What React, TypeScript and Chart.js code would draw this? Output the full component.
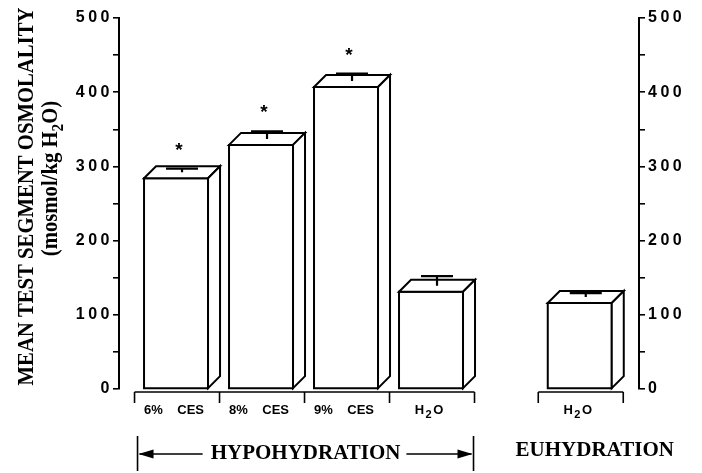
import { useEffect, useRef } from 'react';
import { Chart, registerables } from 'chart.js';

Chart.register(...registerables);

// ---- data ----
const categories = ['6%    CES', '8%    CES', '9%    CES', 'H₂O', 'H₂O'];
const conditionOf = ['HYPOHYDRATION', 'HYPOHYDRATION', 'HYPOHYDRATION', 'HYPOHYDRATION', 'EUHYDRATION'];
const conditions = ['HYPOHYDRATION', 'EUHYDRATION'];
const meanOsmolality = [284, 329, 407, 131, 116];
const semOsmolality = [5, 10, 10, 13, 5];
const significant = [true, true, true, false, false];
const yMin = 0;
const yMax = 500;
const yMinorStep = 50;
const yLabelStep = 100;
const yTitleLines = ['MEAN TEST SEGMENT OSMOLALITY', '(mosmol/kg H₂O)'];

// ---- layout constants ----
const GROUP_GAP = 0.75;
const DEPTH = 12;

const xIndex = (i: number) => i + conditions.indexOf(conditionOf[i]) * GROUP_GAP;

const SUB: Record<string, string> = { '₀': '0', '₁': '1', '₂': '2', '₃': '3', '₄': '4' };

function drawRich(
  ctx: CanvasRenderingContext2D,
  text: string,
  x: number,
  y: number,
  size: number,
  fontFor: (s: number) => string,
  align: 'left' | 'center' | 'right',
  subScale = 0.72,
  subPad = 0
) {
  const runs: { t: string; sub: boolean; w: number }[] = [];
  for (const ch of Array.from(text)) {
    const sub = ch in SUB;
    const c = sub ? SUB[ch] : ch;
    const last = runs[runs.length - 1];
    if (last && last.sub === sub) last.t += c;
    else runs.push({ t: c, sub, w: 0 });
  }
  const subSize = Math.round(size * subScale);
  let total = 0;
  for (const r of runs) {
    ctx.font = fontFor(r.sub ? subSize : size);
    r.w = ctx.measureText(r.t).width + (r.sub ? subPad * 2 : 0);
    total += r.w;
  }
  let cx = align === 'center' ? x - total / 2 : align === 'right' ? x - total : x;
  ctx.textAlign = 'left';
  for (const r of runs) {
    ctx.font = fontFor(r.sub ? subSize : size);
    ctx.fillText(r.t, cx + (r.sub ? subPad : 0), r.sub ? y + size * 0.28 : y);
    cx += r.w;
  }
  return total;
}

const sansBold = (s: number) => `bold ${s}px "Liberation Sans", Arial, sans-serif`;
const serifBold = (s: number) => `bold ${s}px "Liberation Serif", "Times New Roman", serif`;

const tickSpacingPlugin = {
  id: 'tickSpacing',
  beforeDraw(chart: any) {
    chart.ctx.letterSpacing = '3.5px';
  },
  afterDraw(chart: any) {
    chart.ctx.letterSpacing = '0px';
  },
};

const boxesPlugin = {
  id: 'boxes3d',
  afterDatasetsDraw(chart: any) {
    const ctx: CanvasRenderingContext2D = chart.ctx;
    const meta = chart.getDatasetMeta(0);
    const ys = chart.scales.y;
    const xs = chart.scales.x;
    const D = DEPTH;
    ctx.save();
    (ctx as any).letterSpacing = '0px';
    ctx.strokeStyle = '#000';
    ctx.fillStyle = '#fff';
    ctx.lineJoin = 'miter';

    meta.data.forEach((el: any, i: number) => {
      const { x, y, base, width } = el.getProps(['x', 'y', 'base', 'width'], true);
      const x0 = x - width / 2;
      const x1 = x + width / 2;
      ctx.lineWidth = 2;
      ctx.fillStyle = '#fff';
      ctx.beginPath();
      ctx.rect(x0, y, width, base - y);
      ctx.fill();
      ctx.stroke();
      ctx.beginPath();
      ctx.moveTo(x0, y);
      ctx.lineTo(x0 + D, y - D);
      ctx.lineTo(x1 + D, y - D);
      ctx.lineTo(x1, y);
      ctx.closePath();
      ctx.fill();
      ctx.stroke();
      ctx.beginPath();
      ctx.moveTo(x1, y);
      ctx.lineTo(x1 + D, y - D);
      ctx.lineTo(x1 + D, base - D);
      ctx.lineTo(x1, base);
      ctx.closePath();
      ctx.fill();
      ctx.stroke();

      // error bar on top face centre
      const ex = x + D / 2;
      const eBase = y - D / 2;
      const eTop = ys.getPixelForValue(meanOsmolality[i] + semOsmolality[i]) - D / 2;
      ctx.lineWidth = 2.2;
      ctx.beginPath();
      ctx.moveTo(ex, eBase);
      ctx.lineTo(ex, eTop);
      ctx.moveTo(ex - 16, eTop);
      ctx.lineTo(ex + 16, eTop);
      ctx.stroke();

      if (significant[i]) {
        ctx.fillStyle = '#000';
        ctx.font = sansBold(19);
        ctx.textAlign = 'center';
        ctx.textBaseline = 'alphabetic';
        ctx.fillText('*', ex - 3, eTop - 24 + 11);
      }
    });

    // brackets, category labels and condition labels
    const unit = xs.getPixelForValue(1) - xs.getPixelForValue(0);
    const yb = ys.getPixelForValue(0) + 3;
    ctx.fillStyle = '#000';
    ctx.textBaseline = 'alphabetic';
    conditions.forEach((cond) => {
      const idx = conditionOf.map((c, i) => (c === cond ? i : -1)).filter((i) => i >= 0);
      const left = xs.getPixelForValue(xIndex(idx[0])) - unit / 2 + 1;
      const right = xs.getPixelForValue(xIndex(idx[idx.length - 1])) + unit / 2 + 1;
      ctx.lineWidth = 1.6;
      ctx.beginPath();
      ctx.moveTo(left, yb);
      ctx.lineTo(right, yb);
      for (let k = 0; k <= idx.length; k++) {
        const bx = left + k * unit;
        ctx.moveTo(bx, yb);
        ctx.lineTo(bx, yb + 11);
      }
      ctx.stroke();

      idx.forEach((i) => {
        const cx = xs.getPixelForValue(xIndex(i)) - 2;
        drawRich(ctx, categories[i], cx, yb + 22, 13, sansBold, 'center', 0.85, 1.5);
      });

      const gy = yb + 62;
      ctx.font = serifBold(21);
      ctx.textBaseline = 'middle';
      ctx.textAlign = 'center';
      if (idx.length > 1) {
        const center = (left + right) / 2 + 1;
        const w = ctx.measureText(cond).width;
        ctx.fillText(cond, center, gy);
        const bl = left + 3;
        const br = right - 1;
        ctx.lineWidth = 1.6;
        ctx.beginPath();
        ctx.moveTo(bl, gy - 18);
        ctx.lineTo(bl, gy + 17);
        ctx.moveTo(br, gy - 18);
        ctx.lineTo(br, gy + 17);
        ctx.moveTo(bl + 2, gy);
        ctx.lineTo(center - w / 2 - 8, gy);
        ctx.moveTo(center + w / 2 + 6, gy);
        ctx.lineTo(br - 2, gy);
        ctx.stroke();
        ctx.beginPath();
        ctx.moveTo(bl + 1, gy);
        ctx.lineTo(bl + 16, gy - 4.5);
        ctx.lineTo(bl + 16, gy + 4.5);
        ctx.closePath();
        ctx.moveTo(br - 1, gy);
        ctx.lineTo(br - 16, gy - 4.5);
        ctx.lineTo(br - 16, gy + 4.5);
        ctx.closePath();
        ctx.fill();
      } else {
        ctx.fillText(cond, (left + right) / 2 + 14, gy - 3);
      }
      ctx.textBaseline = 'alphabetic';
    });

    // y-axis title (two rotated lines)
    const area = chart.chartArea;
    const mid = (area.top + area.bottom) / 2;
    const lines = [
      { text: yTitleLines[0], x: 33, y: mid - 7 },
      { text: yTitleLines[1], x: 57, y: mid - 25 },
    ];
    lines.forEach((l) => {
      ctx.save();
      ctx.translate(l.x, l.y);
      ctx.rotate(-Math.PI / 2);
      ctx.scale(0.9, 1);
      ctx.fillStyle = '#000';
      drawRich(ctx, l.text, 0, 0, 23, serifBold, 'center');
      ctx.restore();
    });

    ctx.restore();
  },
};

const yAxis = (position: 'left' | 'right', width: number, pad: number) => ({
  type: 'linear' as const,
  position,
  min: yMin,
  max: yMax,
  afterFit: (s: any) => {
    s.width = width;
  },
  grid: {
    display: true,
    drawOnChartArea: false,
    drawTicks: true,
    tickLength: 6,
    color: '#000',
    lineWidth: 1.6,
  },
  border: { display: true, color: '#000', width: 2 },
  ticks: {
    stepSize: yMinorStep,
    autoSkip: false,
    padding: pad,
    color: '#000',
    font: { family: '"Liberation Sans", Arial, sans-serif', weight: 'bold' as const, size: 16 },
    callback: (v: any) => (Number(v) % yLabelStep === 0 ? String(v) : ''),
  },
});

export default function App() {
  const ref = useRef<HTMLCanvasElement>(null);
  useEffect(() => {
    if (!ref.current) return;
    const chart = new Chart(ref.current, {
      type: 'bar',
      data: {
        datasets: [
          {
            data: meanOsmolality.map((v, i) => ({ x: xIndex(i), y: v })),
            backgroundColor: 'rgba(0,0,0,0)',
            borderWidth: 0,
            barThickness: 64,
            yAxisID: 'y',
          },
        ],
      },
      options: {
        animation: false,
        responsive: false,
        layout: { padding: { top: 18, bottom: 84, left: 0, right: 0 } },
        plugins: { legend: { display: false }, tooltip: { enabled: false } },
        scales: {
          x: {
            type: 'linear',
            display: false,
            offset: false,
            grid: { offset: false },
            bounds: 'ticks',
            min: -0.671,
            max: 5.447,
          },
          y: yAxis('left', 119, 0),
          y2: yAxis('right', 63, 3),
        },
      } as any,
      plugins: [tickSpacingPlugin, boxesPlugin],
    });
    return () => chart.destroy();
  }, []);
  return (
    <div style={{ position: 'fixed', left: 0, top: 0, width: 702, height: 473, background: '#fff' }}>
      <canvas ref={ref} width={702} height={473} style={{ display: 'block', width: 702, height: 473 }} />
    </div>
  );
}
